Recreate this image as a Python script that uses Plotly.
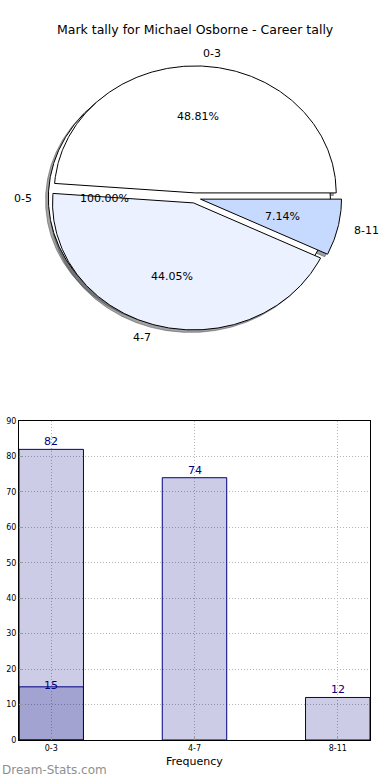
import numpy as np
import plotly.graph_objects as go

# ---------------- data ----------------
title = "Mark tally for Michael Osborne - Career tally"
categories = ["0-3", "4-7", "8-11"]
tally = [82, 74, 12]
pie_colors = ["#FFFFFF", "#EBF1FE", "#C6D9FE"]
sub_categories = ["0-5"]
sub_tally = [15]
sub_colors = ["#FFFFFF"]
y_ticks = list(range(0, 91, 10))
x_label = "Frequency"
watermark = "Dream-Stats.com"

FONT = "DejaVu Sans"
EXPLODE = 0.04
SHADOW = (-0.02, -0.02)

W, H = 390, 780
PCX, PCY, RX, RY = 195.0, 198.0, 141.0, 127.0
PIE_BOTTOM_PX = 400.0

fig = go.Figure()


def wedge_list(values, colors):
    total = float(sum(values))
    out = []
    t0 = 0.0
    for v, c in zip(values, colors):
        t1 = t0 + 360.0 * v / total
        tm = np.radians((t0 + t1) / 2.0)
        cx, cy = EXPLODE * np.cos(tm), EXPLODE * np.sin(tm)
        n = max(int(abs(t1 - t0)) * 2, 4)
        th = np.radians(np.linspace(t0, t1, n))
        if abs((t1 - t0) - 360.0) < 1e-9:
            xs = cx + np.cos(th)
            ys = cy + np.sin(th)
        else:
            xs = np.concatenate([[cx], cx + np.cos(th), [cx]])
            ys = np.concatenate([[cy], cy + np.sin(th), [cy]])
        out.append(dict(xs=xs, ys=ys, cx=cx, cy=cy, tm=tm, color=c,
                        pct=100.0 * v / total))
        t0 = t1
    return out


def shade(hexcol):
    h = hexcol.lstrip("#")
    r, g, b = (int(h[i:i + 2], 16) for i in (0, 2, 4))
    return "rgba(%d,%d,%d,0.5)" % (round(0.3 * r), round(0.3 * g), round(0.3 * b))


sub_w = wedge_list(sub_tally, sub_colors)
main_w = wedge_list(tally, pie_colors)

# shadows first, then wedges
for w in sub_w + main_w:
    fig.add_trace(go.Scatter(
        x=w["xs"] + SHADOW[0], y=w["ys"] + SHADOW[1], xaxis="x2", yaxis="y2",
        mode="lines", fill="toself", fillcolor=shade(w["color"]),
        line=dict(color=shade(w["color"]), width=1), hoverinfo="skip"))
for w in sub_w + main_w:
    fig.add_trace(go.Scatter(
        x=w["xs"], y=w["ys"], xaxis="x2", yaxis="y2",
        mode="lines", fill="toself", fillcolor=w["color"],
        line=dict(color="black", width=1), hoverinfo="skip"))

annotations = []


def pie_texts(ws, labels):
    for w, lab in zip(ws, labels):
        lx = w["cx"] + 1.1 * np.cos(w["tm"])
        ly = w["cy"] + 1.1 * np.sin(w["tm"])
        annotations.append(dict(
            x=lx, y=ly, xref="x2", yref="y2", text=lab, showarrow=False,
            xanchor="left" if lx > 0 else "right", yanchor="middle",
            font=dict(family=FONT, size=11, color="black")))
        px = w["cx"] + 0.6 * np.cos(w["tm"])
        py = w["cy"] + 0.6 * np.sin(w["tm"])
        annotations.append(dict(
            x=px, y=py, xref="x2", yref="y2", text="%.2f%%" % w["pct"],
            showarrow=False, xanchor="center", yanchor="middle",
            font=dict(family=FONT, size=11, color="black")))


pie_texts(sub_w, sub_categories)
pie_texts(main_w, categories)

# ---------------- bars ----------------
bar_fill = "rgba(0,0,128,0.2)"
fig.add_trace(go.Bar(
    x=categories, y=tally, width=0.45, xaxis="x", yaxis="y",
    marker=dict(color=bar_fill, line=dict(color="navy", width=1)),
    hoverinfo="skip"))
fig.add_trace(go.Bar(
    x=[categories[0]] * len(sub_tally), y=sub_tally, width=0.45, xaxis="x", yaxis="y",
    marker=dict(color=bar_fill, line=dict(color="navy", width=1)),
    hoverinfo="skip"))

for c, v in zip(categories, tally):
    annotations.append(dict(x=c, y=v, xref="x", yref="y", text=str(v),
                            showarrow=False, yanchor="bottom", yshift=-1,
                            font=dict(family=FONT, size=11, color="navy")))
for v in sub_tally:
    annotations.append(dict(x=categories[0], y=v, xref="x", yref="y", text=str(v),
                            showarrow=False, yanchor="middle", yshift=1,
                            font=dict(family=FONT, size=11, color="navy")))

annotations.append(dict(x=0.5, y=1 - 30 / H, xref="paper", yref="paper", text=title,
                        showarrow=False, xanchor="center", yanchor="middle",
                        font=dict(family=FONT, size=12.5, color="black")))
annotations.append(dict(x=0.5 * (19 + 370) / W, y=1 - 761 / H, xref="paper", yref="paper",
                        text=x_label, showarrow=False, xanchor="center", yanchor="middle",
                        font=dict(family=FONT, size=11, color="black")))
annotations.append(dict(x=0, y=1 - 770 / H, xref="paper", yref="paper",
                        text=watermark, showarrow=False, xanchor="left", yanchor="middle",
                        font=dict(family=FONT, size=12, color="#8f8f8f")))

bx0, bx1, by_top, by_bot = 19.0, 370.0, 421.0, 740.0
grid = dict(showgrid=True, gridcolor="#b4b4b4", griddash="1px,2px", gridwidth=1)

fig.update_layout(
    width=W, height=H, margin=dict(l=0, r=0, t=0, b=0, autoexpand=False),
    paper_bgcolor="white", plot_bgcolor="white", showlegend=False,
    barmode="overlay",
    annotations=annotations,
    xaxis=dict(domain=[bx0 / W, bx1 / W], range=[-0.225, 2.225], type="category",
               showline=True, mirror=True, linecolor="black", linewidth=1,
               ticks="inside", ticklen=4, tickcolor="#999999",
               tickfont=dict(family=FONT, size=8, color="black"), zeroline=False, **grid),
    yaxis=dict(domain=[1 - by_bot / H, 1 - by_top / H], range=[0, 90],
               tickvals=y_ticks, showline=True, mirror=True, linecolor="black", linewidth=1,
               ticks="inside", ticklen=4, tickcolor="#999999",
               tickfont=dict(family=FONT, size=8, color="black"), zeroline=False, **grid),
    xaxis2=dict(domain=[0, 1], range=[-PCX / RX, (W - PCX) / RX], visible=False,
                fixedrange=True),
    yaxis2=dict(domain=[1 - PIE_BOTTOM_PX / H, 1],
                range=[-(PIE_BOTTOM_PX - PCY) / RY, PCY / RY], visible=False,
                fixedrange=True),
)

fig.write_html("out.html", config={"displayModeBar": False},
               post_script="document.body.style.margin='0';")
